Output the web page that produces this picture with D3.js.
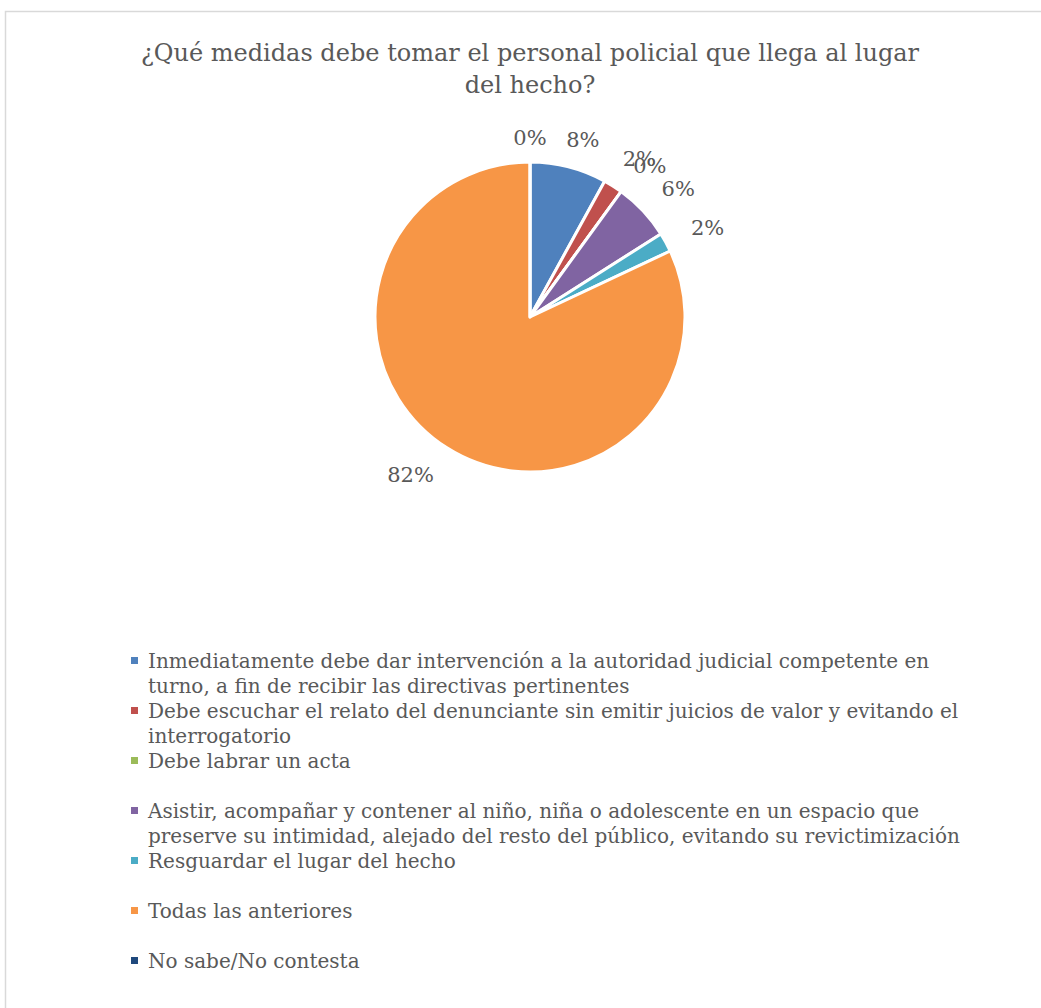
<!DOCTYPE html>
<html>
<head>
<meta charset="utf-8">
<script src="https://cdn.jsdelivr.net/npm/d3@7"></script>
<style>
  body { margin: 0; background: #fff; }
  text { font-family: "DejaVu Serif", serif; fill: #595959; }
</style>
</head>
<body>
<div id="chart"></div>
<script>
// data
const categories = [
    "Inmediatamente debe dar intervención a la autoridad judicial competente en\nturno, a fin de recibir las directivas pertinentes",
    "Debe escuchar el relato del denunciante sin emitir juicios de valor y evitando el\ninterrogatorio",
    "Debe labrar un acta",
    "Asistir, acompañar y contener al niño, niña o adolescente en un espacio que\npreserve su intimidad, alejado del resto del público, evitando su revictimización",
    "Resguardar el lugar del hecho",
    "Todas las anteriores",
    "No sabe/No contesta"
];
const values = [8, 2, 0, 6, 2, 82, 0];
const colors = ["#4f81bd", "#c0504d", "#9bbb59", "#8064a2", "#4bacc6", "#f79646", "#1f497d"];
const titleLines = ["¿Qué medidas debe tomar el personal policial que llega al lugar", "del hecho?"];

const W = 1041, H = 1008;
const cx = 530, cy = 317, r = 155;

const svg = d3.select("#chart").append("svg")
    .attr("width", W)
    .attr("height", H);

// chart border
svg.append("rect")
    .attr("x", 5.5).attr("y", 11.5)
    .attr("width", W).attr("height", H)
    .attr("fill", "none")
    .attr("stroke", "#d9d9d9")
    .attr("stroke-width", 1.5);

// title
svg.append("g").selectAll("text")
    .data(titleLines)
    .join("text")
    .attr("x", 530)
    .attr("y", (d, i) => 61 + i * 32)
    .attr("text-anchor", "middle")
    .attr("font-size", "24px")
    .text(d => d);

const data = categories.map((c, i) => ({ name: c, value: values[i], color: colors[i] }));

const pie = d3.pie().sort(null).value(d => d.value);
const arc = d3.arc().innerRadius(0).outerRadius(r);
const arcs = pie(data);

const g = svg.append("g").attr("transform", `translate(${cx},${cy})`);

g.selectAll("path")
    .data(arcs)
    .join("path")
    .attr("d", arc)
    .attr("fill", d => d.data.color)
    .attr("stroke", "#fff")
    .attr("stroke-width", 3)
    .attr("stroke-linejoin", "round");

// percent labels outside the pie (best-fit style, like the original)
const lw = 40, lh = 22;
g.selectAll("text.pct")
    .data(arcs)
    .join("text")
    .attr("class", "pct")
    .attr("font-size", "21px")
    .attr("text-anchor", "middle")
    .attr("dy", "0.35em")
    .each(function (d) {
        const a = (d.startAngle + d.endAngle) / 2;
        const sx = Math.sin(a), sy = -Math.cos(a);
        const w = d.data.value >= 10 ? 54 : lw;
        const dist = r + 18 + Math.abs(sx) * w / 2 + Math.abs(sy) * lh / 2;
        const nx = sx > 0.1 ? 6 : sx < -0.1 ? -14 : 0;
        const ny = sy < 0 ? 5 : -8;
        d3.select(this)
            .attr("x", sx * dist + nx)
            .attr("y", sy * dist + ny);
    })
    .text(d => d.data.value + "%");

// legend
const legend = svg.append("g").attr("class", "legend");
const row = d3.scaleBand().domain(d3.range(categories.length)).range([650, 1000]);

const items = legend.selectAll("g")
    .data(data)
    .join("g")
    .attr("transform", (d, i) => `translate(0,${row(i) + 18})`);

items.append("rect")
    .attr("x", 131).attr("y", -11)
    .attr("width", 7).attr("height", 7)
    .attr("fill", d => d.color);

items.append("text")
    .attr("x", 148)
    .attr("font-size", "20px")
    .selectAll("tspan")
    .data(d => d.name.split("\n"))
    .join("tspan")
    .attr("x", 148)
    .attr("dy", (d, i) => i === 0 ? 0 : 25)
    .text(d => d);
</script>
</body>
</html>
